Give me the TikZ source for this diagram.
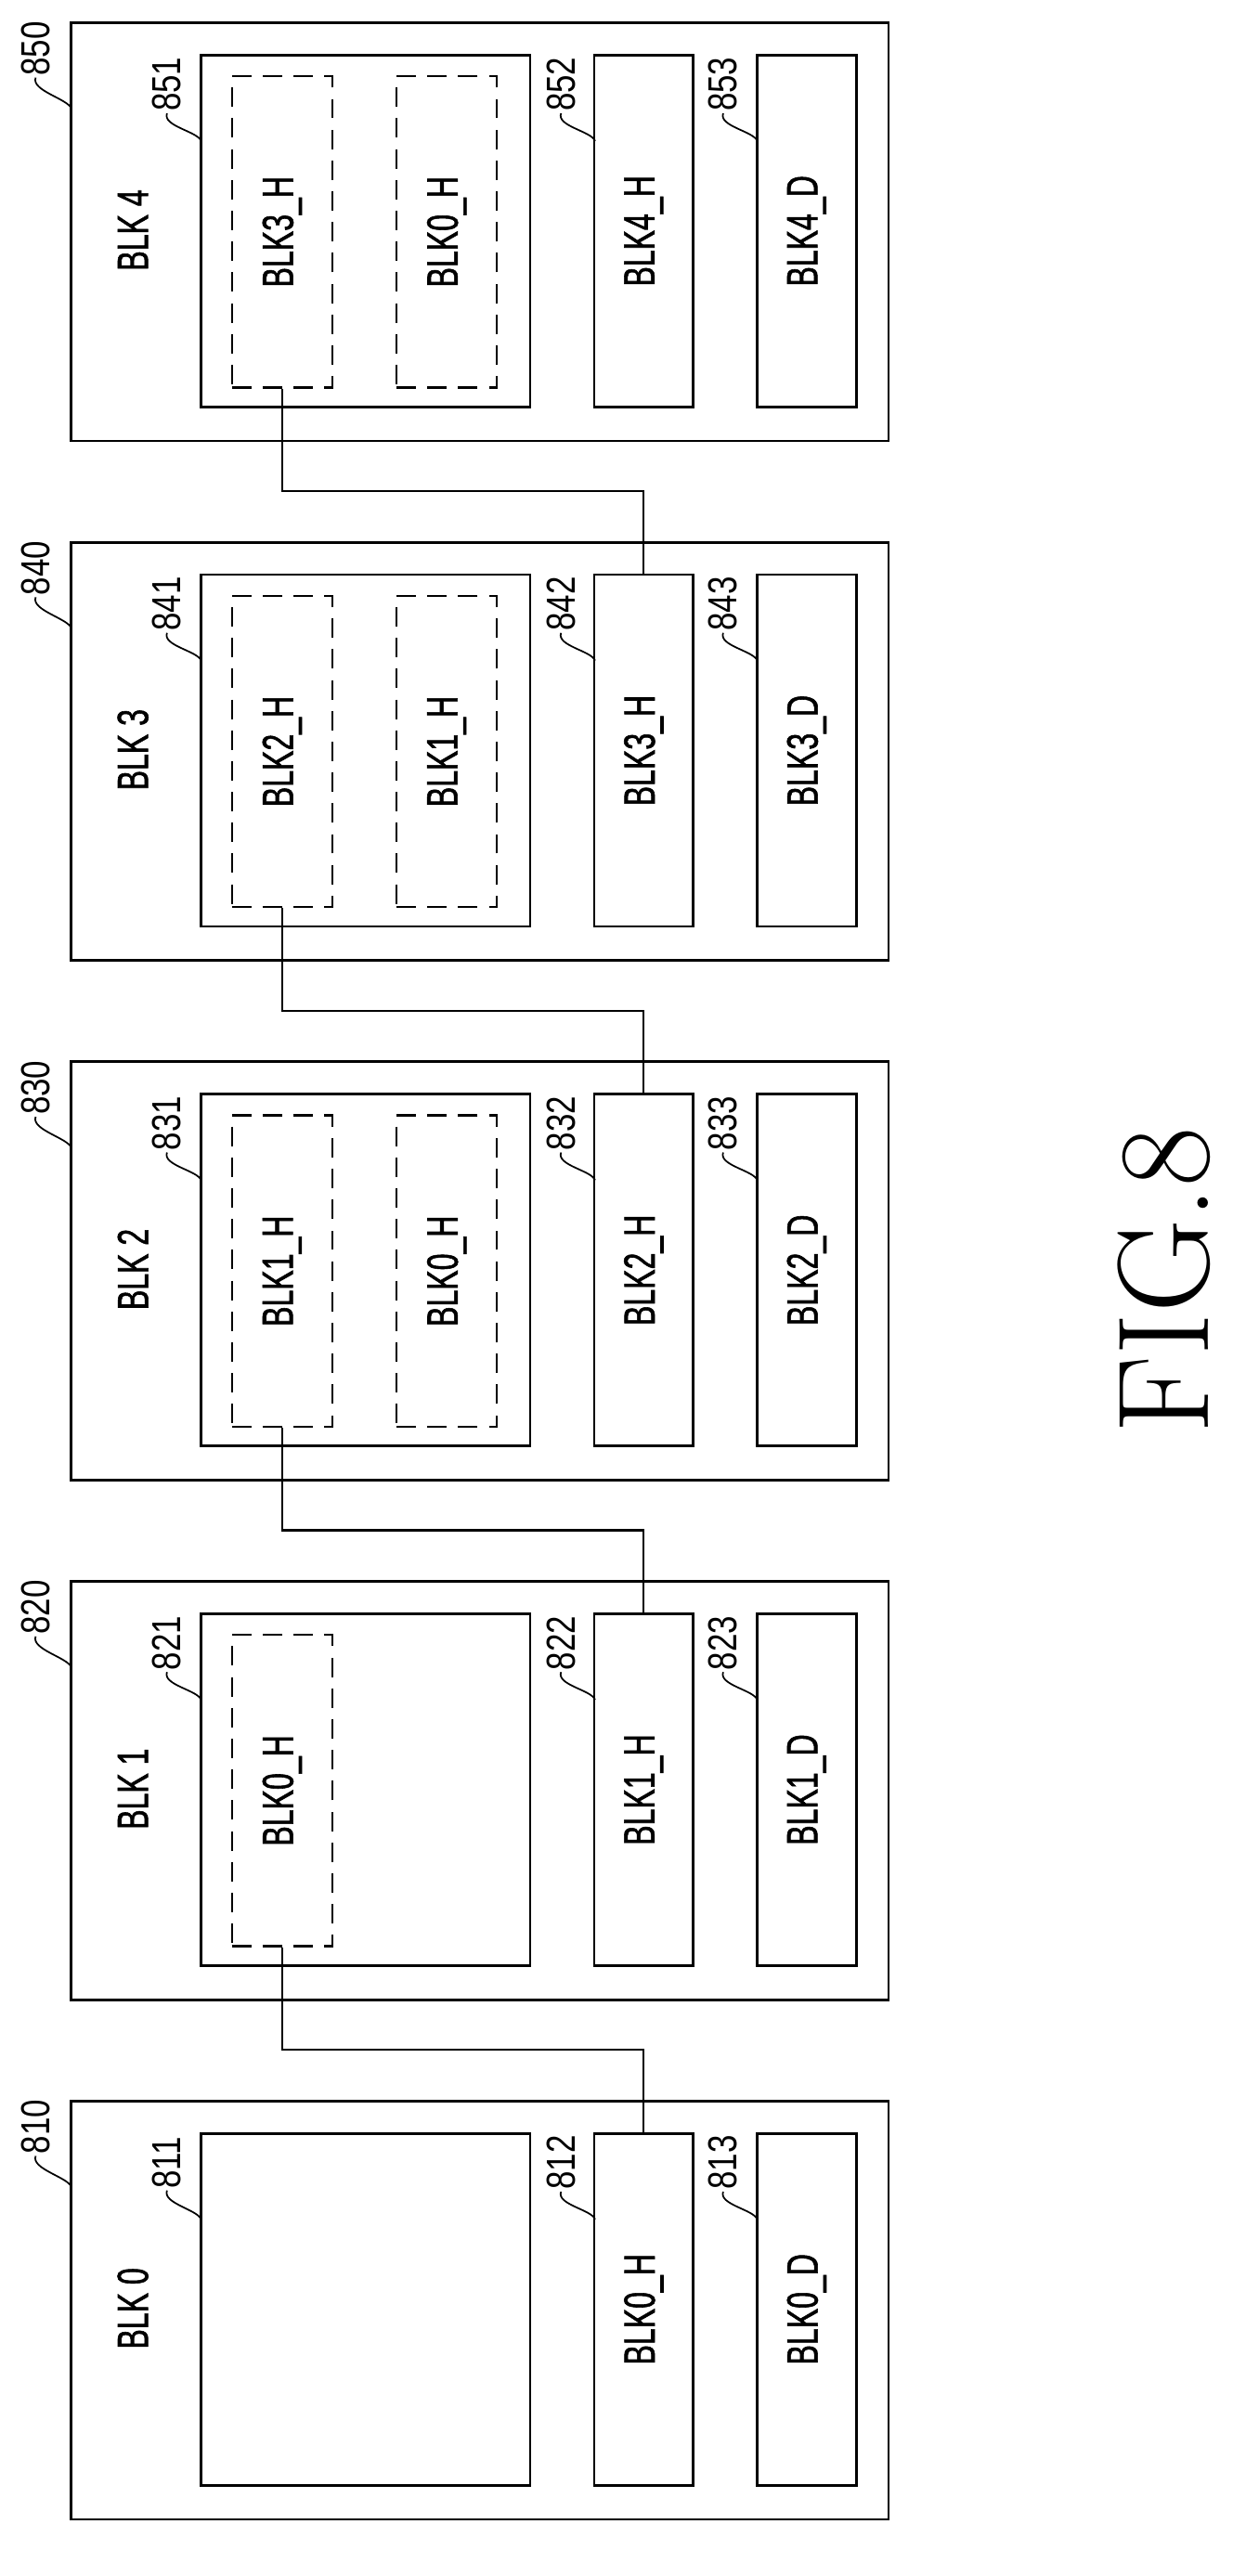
\documentclass[tikz,border=0pt]{standalone}
\usepackage{fontspec}
\newfontfamily\lblfont[FakeStretch=0.68,FakeBold=1.2]{Liberation Sans}
\newfontfamily\numfont[FakeStretch=0.8]{Liberation Sans}
\usepackage{tikz}
\usetikzlibrary{positioning}

\begin{document}
\begin{tikzpicture}[x=1pt,y=1pt,
  font=\lblfont\fontsize{27}{30}\selectfont,
  outerbox/.style = {draw, line width=1.6pt, minimum width=504pt, minimum height=258pt, inner sep=0},
  innerbox/.style = {draw, line width=1.6pt, minimum width=203pt, minimum height=217pt, inner sep=0},
  dashbox/.style = {draw, dash pattern=on 12pt off 7pt, line width=1.4pt, minimum width=62pt, minimum height=192pt, inner sep=0},
  smallbox/.style = {draw, line width=1.6pt, minimum width=61pt, minimum height=217pt, inner sep=0},
  vtext/.style = {rotate=90},
  refnum/.style = {rotate=90, font=\numfont\fontsize{25}{28}\selectfont, inner sep=1pt},
  lead/.style = {line width=1pt},
  wire/.style = {line width=1.3pt}]
\useasboundingbox (0,0) rectangle (768,-1589);

\foreach \k in {0,...,4}{
  \pgfmathsetmacro\t{14+(4-\k)*320.5}
  % block frame
  \node[outerbox] (blk\k) at (296,-\t-129) {};
  \node[vtext] (blk\k lbl) at (82,-\t-128) {BLK \k};
  \node[innerbox] (blk\k in) at (225.5,-\t-128.5) {};
  \node[smallbox] (blk\k h) at (397,-\t-128.5) {};
  \node[vtext] at (blk\k h) {BLK\k\_H};
  \node[smallbox] (blk\k d) at (497.5,-\t-128.5) {};
  \node[vtext] at (blk\k d) {BLK\k\_D};
  % reference numbers
  \node[refnum] (n\k) at (22,-\t-16) {8\the\numexpr\k+1\relax 0};
  \draw[lead] (n\k.west) .. controls +(-3,-8) and +(-2,6) .. (44,-\t-53);
  \node[refnum] (n\k a) at (103,-\t-38) {8\the\numexpr\k+1\relax 1};
  \draw[lead] (n\k a.west) .. controls +(-3,-8) and +(-2,6) .. (124,-\t-73);
  \node[refnum] (n\k b) at (346,-\t-38) {8\the\numexpr\k+1\relax 2};
  \draw[lead] (n\k b.west) .. controls +(-3,-8) and +(-2,6) .. (367,-\t-73);
  \node[refnum] (n\k c) at (446,-\t-38) {8\the\numexpr\k+1\relax 3};
  \draw[lead] (n\k c.west) .. controls +(-3,-8) and +(-2,6) .. (467,-\t-73);
}

% dashed header copies
\foreach \k/\da in {4/3,3/2,2/1,1/0}{
  \pgfmathsetmacro\t{14+(4-\k)*320.5}
  \node[dashbox] (blk\k x) at (174,-\t-129) {};
  \node[vtext] at (blk\k x) {BLK\da\_H};
}
\foreach \k/\db in {4/0,3/1,2/0}{
  \pgfmathsetmacro\t{14+(4-\k)*320.5}
  \node[dashbox] (blk\k y) at (275.5,-\t-129) {};
  \node[vtext] at (blk\k y) {BLK\db\_H};
}

% links
\foreach \k/\j in {4/3,3/2,2/1,1/0}{
  \pgfmathsetmacro\m{-(14+(4-\k)*320.5)-258-31}
  \draw[wire] (blk\k x.south) |- (397,\m) -- (blk\j h.north);
}

\node[rotate=90, font=\fontsize{80}{90}\selectfont\rmfamily] (fig) at (718,-790) {FIG.8};
\end{tikzpicture}
\end{document}
